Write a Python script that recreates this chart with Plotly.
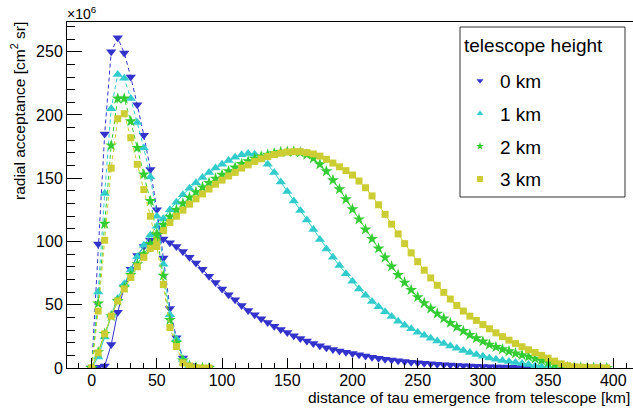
import plotly.graph_objects as go

# ---------------- data ----------------
heights = ["0 km", "1 km", "2 km", "3 km"]
colors = ["#3333cc", "#33cccc", "#33cc33", "#cccc33"]
symbols = ["triangle-down", "triangle-up", "star", "square"]
msizes = [9, 9, 9, 7]

# x grids (km)
dist_near = list(range(0, 95, 5))      # 0..90
dist_far0 = list(range(0, 345, 5))     # 0..340
dist_far = list(range(0, 400, 5))      # 0..395

# dashed (near-peaked) curves, units of 1e6 cm^2 sr
near_0km = [0, 98, 185, 250, 261, 249, 230, 208, 184, 157, 125, 87, 47, 24, 8, 2, 0.5, 0, 0]
near_1km = [0, 60, 138, 205, 232, 229, 213, 194, 174, 151, 120, 82, 42, 23, 7, 2, 0.5, 0, 0]
near_2km = [0, 51, 114, 176, 213, 213, 195, 174, 153, 132, 105, 73, 38, 20, 6, 1.8, 0.4, 0, 0]
near_3km = [0, 45, 101, 158, 197, 201, 182, 161, 141, 120, 96, 66, 32, 17, 4, 1.6, 0.2, 0, 0]

# solid (broad) curves
far_0km = [0, 0.5, 1.6, 18.5, 44, 64, 78, 89, 96, 101,
           103, 102, 99, 96, 92, 87.5, 83, 78, 72.5, 67.5,
           62.5, 58, 54, 49.5, 45.5, 42, 39, 36, 33, 30.5,
           28, 25.5, 23.3, 21.3, 19.3, 17.5, 16, 14.7, 13.5, 12.4,
           11.4, 10.4, 9.4, 8.5, 7.7, 7, 6.3, 5.7, 5.1, 4.6,
           4.1, 3.7, 3.3, 2.9, 2.6, 2.3, 2.0, 1.8, 1.6, 1.4,
           1.2, 1.0, 0.85, 0.7, 0.6, 0.5, 0.4, 0.3, 0.2]
far_1km = [0, 8.7, 24.5, 41.7, 55, 66.5, 77.5, 88, 97, 105,
           112, 118, 125, 131, 137, 142, 146.5, 150.5, 154.5, 158,
           161, 164, 166.5, 168.5, 169.5, 169, 166, 161, 154.5, 147,
           139.5, 132, 124.5, 117, 109.5, 101.5, 94, 87.5, 81, 74.5,
           68.5, 62.5, 57.5, 52.5, 48.5, 44.5, 40.8, 37, 33.8, 31,
           28.3, 25.8, 23.5, 21.4, 19.3, 17.4, 15.6, 13.9, 12.2, 10.7,
           9.3, 8.0, 7.0, 6.0, 5.2, 4.4, 3.6, 2.8, 1.6, 1.0,
           0.7, 0.5, 0.4, 0.3, 0.2, 0.2, 0.1, 0.1, 0.05, 0]
far_2km = [0, 12.5, 27, 41, 53, 63.5, 73.5, 82, 90, 98,
           106, 113, 119.5, 125, 130, 134.7, 139, 142.8, 146.3, 149.7,
           152.8, 155.5, 158.5, 161.2, 163.4, 165.4, 167.2, 168.7, 169.8, 170.7,
           171, 171, 170.3, 168.7, 165.7, 161, 155.5, 148.5, 141.3, 133.4,
           125.5, 117.5, 109.5, 102, 94.5, 87.3, 80.3, 73.6, 67.5, 61.7,
           56, 51.3, 47, 43, 39.2, 35.6, 32.4, 29.2, 26.2, 23.5,
           21, 18.5, 16.6, 14.8, 13.2, 11.6, 10.2, 8.9, 7.4, 6,
           4.3, 2.6, 1.3, 0.7, 0.4, 0.3, 0.2, 0.1, 0.1, 0.05]
far_3km = [0, 12, 27, 41, 53, 62.5, 71.5, 80, 87.5, 94.5,
           101.5, 108.5, 115, 120, 124.8, 129.5, 133.7, 137.6, 141.5, 145.3,
           148.5, 151.8, 154.6, 158, 160.6, 163.3, 165.4, 167.2, 168.7, 169.8,
           170.7, 171, 171, 170.2, 169.2, 167.5, 165, 162, 159, 156,
           152.5, 147.8, 142.5, 136, 129, 121.5, 113.7, 106, 98.3, 91,
           84, 77.3, 71.2, 65.4, 59.8, 54.5, 49.5, 45, 41, 37.6,
           34.3, 31, 27.8, 24.8, 22, 19.3, 16.8, 14.4, 12.2, 10,
           7.8, 5.4, 3.3, 1.8, 1.0, 0.7, 0.5, 0.3, 0.2, 0.1]

near_series = [near_0km, near_1km, near_2km, near_3km]
far_series = [far_0km, far_1km, far_2km, far_3km]
far_x = [dist_far0, dist_far, dist_far, dist_far]

x_ticks = [0, 50, 100, 150, 200, 250, 300, 350, 400]
y_ticks = [0, 50, 100, 150, 200, 250]

FONT = "Liberation Sans, Arial, Helvetica, sans-serif"

fig = go.Figure()

for i in range(4):
    fig.add_trace(go.Scatter(
        x=far_x[i], y=far_series[i], mode="lines+markers",
        line=dict(color=colors[i], width=1),
        marker=dict(symbol=symbols[i], size=msizes[i], color=colors[i], line=dict(width=0)),
        showlegend=False, hoverinfo="skip"))
for i in range(4):
    fig.add_trace(go.Scatter(
        x=dist_near, y=near_series[i], mode="lines+markers",
        line=dict(color=colors[i], width=1, dash="4px,3px"),
        marker=dict(symbol=symbols[i], size=msizes[i], color=colors[i], line=dict(width=0)),
        showlegend=False, hoverinfo="skip"))
# legend entries
for i in range(4):
    fig.add_trace(go.Scatter(
        x=[None], y=[None], mode="markers", name=heights[i],
        legendgroup=heights[i],
        marker=dict(symbol=symbols[i], size=6, color=colors[i], line=dict(width=0)),
        showlegend=True))

L, R, T, B = 67, 0, 22, 42
W, H = 633, 410
pw, ph = W - L - R, H - T - B

def px2x(px):
    return (px - L) / pw

def px2y(py):
    return (H - B - py) / ph

fig.update_layout(
    width=W, height=H,
    margin=dict(l=L, r=R, t=T, b=B, pad=0, autoexpand=False),
    paper_bgcolor="white", plot_bgcolor="white",
    font=dict(family=FONT, size=16, color="black"),
    showlegend=True,
    legend=dict(
        x=px2x(460), y=px2y(62), xanchor="left", yanchor="top",
        bgcolor="rgba(0,0,0,0)", borderwidth=0,
        font=dict(family=FONT, size=19, color="black"),
        tracegroupgap=5,
    ),
    xaxis=dict(
        range=[-18.9, 415.1], tickvals=x_ticks,
        ticks="inside", ticklen=10, tickcolor="black", tickwidth=1,
        minor=dict(dtick=10, ticks="inside", ticklen=5, tickcolor="black", tickwidth=1),
        showline=True, linecolor="black", linewidth=1, mirror=True,
        showgrid=False, zeroline=False,
        ticklabelstandoff=-2,
        tickfont=dict(family=FONT, size=16, color="black"),
    ),
    yaxis=dict(
        range=[0, 273.5], tickvals=y_ticks,
        ticks="inside", ticklen=15, tickcolor="black", tickwidth=1,
        minor=dict(dtick=10, ticks="inside", ticklen=7.5, tickcolor="black", tickwidth=1),
        showline=True, linecolor="black", linewidth=1, mirror=False,
        showgrid=False, zeroline=False,
        tickfont=dict(family=FONT, size=16, color="black"),
    ),
    shapes=[dict(type="rect", xref="paper", yref="paper",
                 x0=px2x(460), x1=px2x(625), y0=px2y(197), y1=px2y(27),
                 line=dict(color="#333333", width=1), fillcolor="rgba(0,0,0,0)")],
    annotations=[
        dict(text="telescope height",
             xref="paper", yref="paper", x=px2x(462), y=px2y(45),
             xanchor="left", yanchor="middle", showarrow=False,
             font=dict(family=FONT, size=19, color="black")),
        dict(text="radial acceptance [cm<sup>2</sup> sr]", textangle=-90,
             xref="paper", yref="paper", x=px2x(18), y=px2y(20),
             xanchor="center", yanchor="top", showarrow=False,
             font=dict(family=FONT, size=15.5, color="black")),
        dict(text="distance of tau emergence from telescope [km]",
             xref="paper", yref="paper", x=px2x(632), y=px2y(398),
             xanchor="right", yanchor="middle", showarrow=False,
             font=dict(family=FONT, size=15.5, color="black")),
        dict(text="×10<sup>6</sup>",
             xref="paper", yref="paper", x=px2x(65), y=px2y(13),
             xanchor="left", yanchor="middle", showarrow=False,
             font=dict(family=FONT, size=14, color="black")),
    ],
)

fig.write_html("out.html", config={"displayModeBar": False},
               post_script="document.body.style.margin='0';document.body.style.overflow='hidden';")
